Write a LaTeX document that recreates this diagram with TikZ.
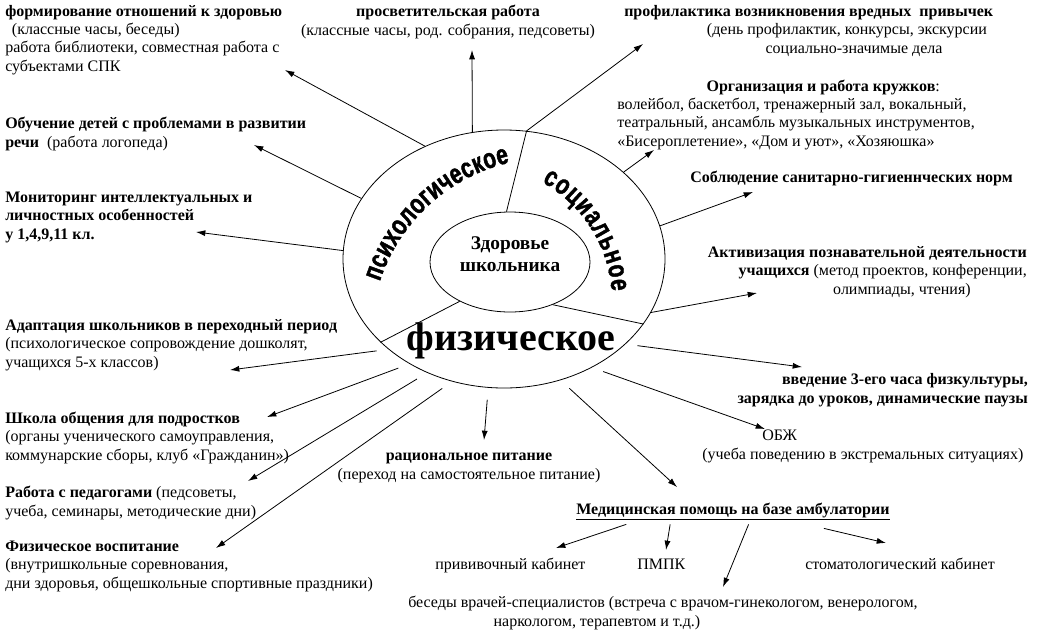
\documentclass[tikz,border=0pt]{standalone}
\usepackage{fontspec}
\setmainfont{Liberation Serif}
\newfontfamily\wordsans{Liberation Sans Bold}[FakeBold=1.5, FakeStretch=0.75]
\usetikzlibrary{shapes.geometric,arrows.meta,decorations.text,calc}

\tikzset{
  txt/.style={font=\fontsize{12}{13.75}\selectfont, inner sep=0pt, align=left, anchor=base west},
  bold/.style={font=\fontsize{12}{13.75}\selectfont\bfseries},
  arr/.style={-{Latex[length=7pt,width=4.5pt]}, line width=0.6pt},
  gap/.style={shorten <=9pt},
  ring/.style={draw, ellipse, line width=0.6pt, inner sep=0pt},
}

\begin{document}
\begin{tikzpicture}[x=0.75pt,y=-0.75pt]
\useasboundingbox (0,0) rectangle (1048,636);

% the two rings
\node[ring, minimum width=241.5pt, minimum height=193.5pt] (outer) at (504,259) {};
\node[ring, minimum width=120pt, minimum height=75pt] (inner) at (510,262) {};
\node[font=\fontsize{14.5}{16.5}\selectfont, align=center] (health) at (510,254) {\textbf{Здоровье}\\\textbf{школьника}};
\draw[line width=0.6pt] (outer.80) -- (inner.94);
\draw[line width=0.6pt] (outer.214) -- (inner.218);
\draw[line width=0.6pt] (inner.315) -- (outer.335);

% words in the ring
\coordinate (c-psy) at (550,337);
\coordinate (c-soc) at (476,301);
\path[decorate, decoration={text along path, text align={fit to path},
  text={|\wordsans\fontsize{21}{21}\selectfont|психологическое}}]
  ($(c-psy)+(198:179)$) arc[start angle=198, end angle=257, radius=179];
\path[decorate, decoration={text along path, text align={fit to path},
  text={|\wordsans\fontsize{21}{21}\selectfont|социальное}}]
  ($(c-soc)+(-61:136)$) arc[start angle=-61, end angle=-4, radius=136];
\node[font=\fontsize{30}{30}\selectfont\bfseries, anchor=base] (phys) at (511,350) {физическое};

% left column
\node[txt] (form) at (5,71) {\textbf{формирование отношений к здоровью}\\\hspace*{5pt}(классные часы, беседы)\\работа библиотеки, совместная работа с\\субъектами СПК};
\node[txt] (obuch) at (5,147) {\textbf{Обучение детей с проблемами в развитии}\\\textbf{речи}\enspace(работа логопеда)};
\node[txt, bold] (monit) at (5,239) {Мониторинг интеллектуальных и\\личностных особенностей\\у 1,4,9,11 кл.};
\node[txt] (adapt) at (5,367) {\textbf{Адаптация школьников в переходный период}\\(психологическое сопровождение дошколят,\\учащихся 5-х классов)};
\node[txt] (shkola) at (5,460) {\textbf{Школа общения для подростков}\\(органы ученического самоуправления,\\коммунарские сборы, клуб «Гражданин»)};
\node[txt] (pedag) at (5,516) {\textbf{Работа с педагогами} (педсоветы,\\учеба, семинары, методические дни)};
\node[txt] (fizvos) at (5,588) {\textbf{Физическое воспитание}\\(внутришкольные соревнования,\\дни здоровья, общешкольные спортивные праздники)};

% top and right
\node[txt, align=center, anchor=base] (prosv) at (448,35) {\textbf{просветительская работа}\\(классные часы, род. собрания, педсоветы)};
\node[txt] (prof) at (624,53) {\textbf{профилактика возникновения вредных\ \ привычек}\\\hspace*{62pt}(день профилактик, конкурсы, экскурсии\\\hspace*{106pt}социально-значимые дела};
\node[txt] (org) at (617,146) {\hspace*{67pt}\textbf{Организация и работа кружков}:\\волейбол, баскетбол, тренажерный зал, вокальный,\\театральный, ансамбль музыкальных инструментов,\\«Бисероплетение», «Дом и уют», «Хозяюшка»};
\node[txt, bold] (sobl) at (690,182) {Соблюдение санитарно-гигиеннческих норм};
\node[txt, align=right, anchor=base east] (aktiv) at (1027,294) {\textbf{Активизация познавательной деятельности}\\\textbf{учащихся} (метод проектов, конференции,\\олимпиады, чтения)\hspace*{42pt}};
\node[txt, bold, align=right, anchor=base east] (vved) at (1028,403) {введение 3-его часа физкультуры,\\зарядка до уроков, динамические паузы};
\node[txt] (obzh) at (702,459) {\hspace*{45pt}ОБЖ\\(учеба поведению в экстремальных ситуациях)};

% bottom
\node[txt, align=center, anchor=base] (racion) at (469,479) {\textbf{рациональное питание}\\(переход на самостоятельное питание)};
\node[txt, bold] (med) at (576,514) {\underline{Медицинская помощь на базе амбулатории}};
\node[txt] (vac) at (435,569) {прививочный кабинет};
\node[txt] (pmpk) at (637,569) {ПМПК};
\node[txt] (stom) at (805,569) {стоматологический кабинет};
\node[txt] (besedy) at (408,626) {беседы врачей-специалистов (встреча с врачом-гинекологом, венерологом,\\\hspace*{64pt}наркологом, терапевтом и т.д.)};

% arrow tips
\coordinate (t-form) at (285,70);
\coordinate (t-obuch) at (254,145);
\coordinate (t-monit) at (196,232);
\coordinate (t-prosv) at (472,50);
\coordinate (t-prof) at (643,44);
\coordinate (t-org) at (654,150);
\coordinate (t-sobl) at (753,192);
\coordinate (t-aktiv) at (757,293);
\coordinate (t-vved) at (802,367);
\coordinate (t-obzh) at (765,429);
\coordinate (t-med) at (677,487);
\coordinate (t-racion) at (484,440);
\coordinate (t-adapt) at (230,370);
\coordinate (t-shkola) at (267,417);
\coordinate (t-pedag) at (248,481);
\coordinate (t-fizvos) at (216,548);
\coordinate (t-vac) at (556,548);
\coordinate (t-pmpk) at (666,550);
\coordinate (t-besedy) at (723,587);
\coordinate (t-stom) at (886,543);

% arrows out of the ring
\draw[arr] (outer.125) -- (t-form);
\draw[arr] (outer.157) -- (t-obuch);
\draw[arr] (outer.177) -- (t-monit);
\draw[arr] (outer.104) -- (t-prosv);
\draw[arr] (outer.80) -- (t-prof);
\draw[arr] (outer.36) -- (t-org);
\draw[arr] (outer.12) -- (t-sobl);
\draw[arr] (outer.340) -- (t-aktiv);
\draw[arr, gap] (outer.325) -- (t-vved);
\draw[arr, gap] (outer.309) -- (t-obzh);
\draw[arr, gap] (outer.295) -- (t-med);
\draw[arr, gap] (outer.263) -- (t-racion);
\draw[arr, gap] (outer.218) -- (t-adapt);
\draw[arr, gap] (outer.228) -- (t-shkola);
\draw[arr, gap] (outer.236) -- (t-pedag);
\draw[arr, gap] (outer.247) -- (t-fizvos);

% medical branch
\draw[arr] ($(med.south west)!0.16!(med.south east)+(0,4)$) -- (t-vac);
\draw[arr] ($(med.south west)!0.3!(med.south east)+(0,4)$) -- (t-pmpk);
\draw[arr] ($(med.south west)!0.55!(med.south east)+(0,4)$) -- (t-besedy);
\draw[arr] ($(med.south west)!0.79!(med.south east)+(0,8)$) -- (t-stom);
\end{tikzpicture}
\end{document}
